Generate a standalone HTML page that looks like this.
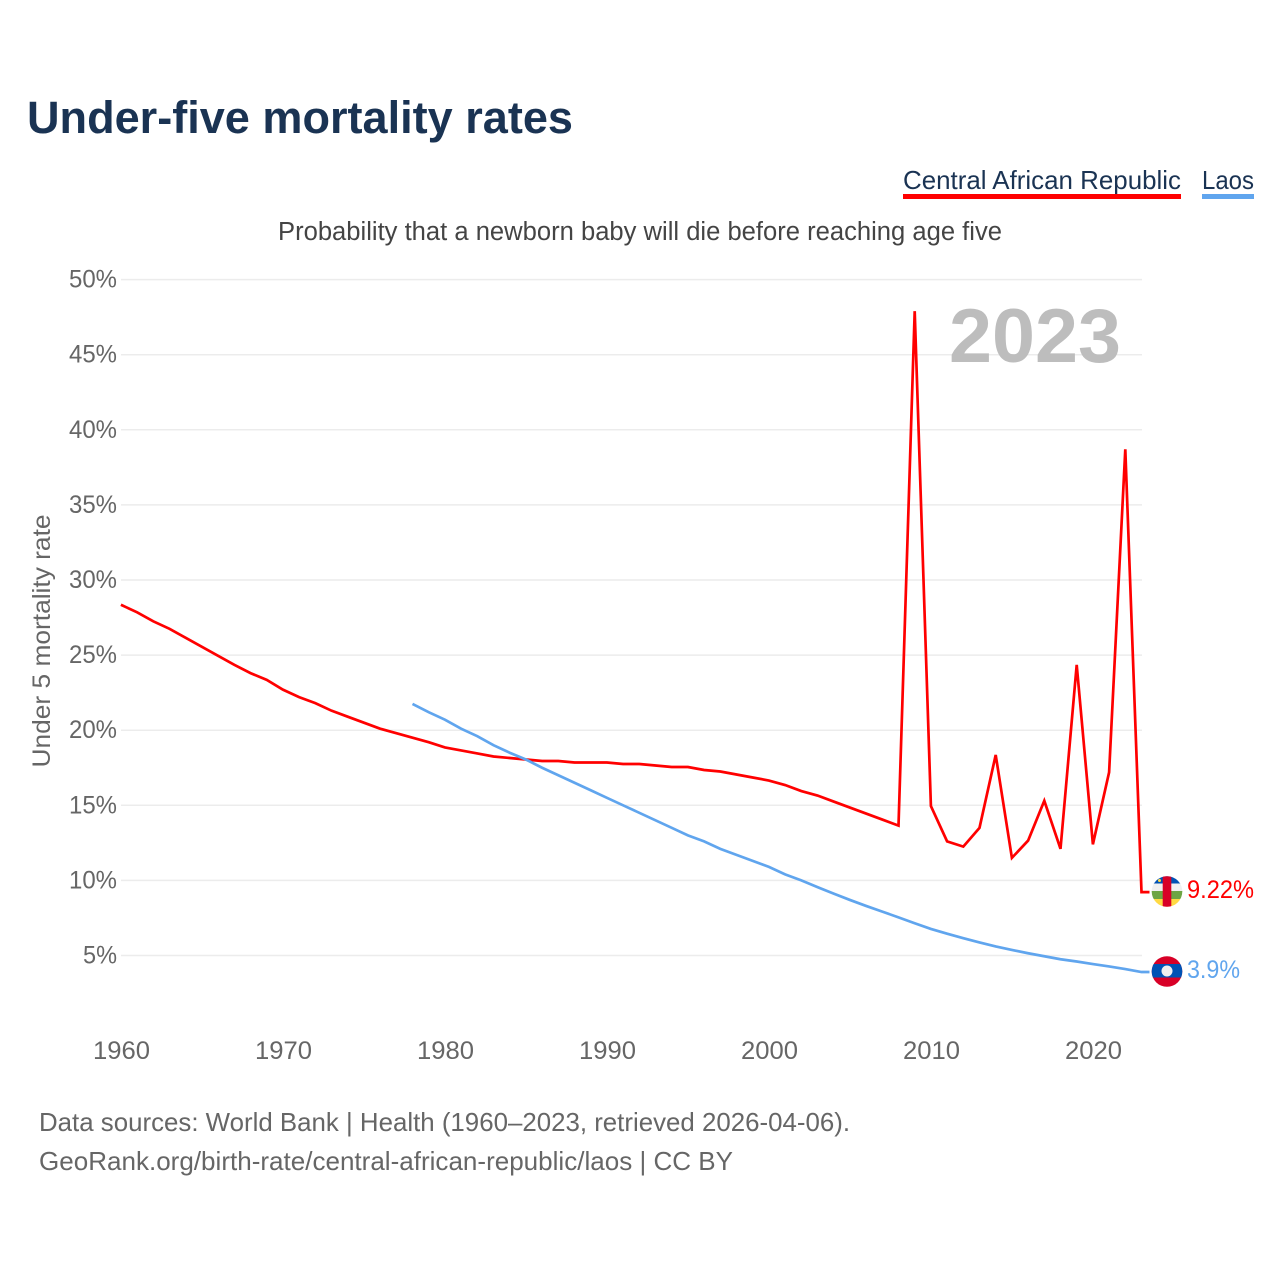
<!DOCTYPE html>
<html lang="en">
<head>
<meta charset="utf-8">
<title>Under-five mortality rates</title>
<style>
html,body{margin:0;padding:0;background:#fff;}
svg{display:block;font-family:"Liberation Sans",sans-serif;}
</style>
</head>
<body>
<svg id="chart" xmlns="http://www.w3.org/2000/svg" width="1280" height="1280" viewBox="0 0 1280 1280">
  <defs>
    <clipPath id="clip-car"><circle cx="1167" cy="891.5" r="15.3"/></clipPath>
    <clipPath id="clip-laos"><circle cx="1167" cy="971.5" r="15.3"/></clipPath>
  </defs>
  <rect width="1280" height="1280" fill="#fff"/>
  <text x="27" y="133" font-size="45" font-weight="700" fill="#1a3353" textLength="546" lengthAdjust="spacingAndGlyphs">Under-five mortality rates</text>

  <g>
    <text x="903" y="189" font-size="26" fill="#1a3353" textLength="278" lengthAdjust="spacingAndGlyphs">Central African Republic</text>
    <rect x="903" y="194" width="278" height="5" fill="#ff0000"/>
  </g>
  <g>
    <text x="1202" y="189" font-size="26" fill="#1a3353" textLength="52" lengthAdjust="spacingAndGlyphs">Laos</text>
    <rect x="1202" y="194" width="52" height="5" fill="#60a5ee"/>
  </g>

  <text x="278" y="240" font-size="25.5" fill="#444" textLength="724" lengthAdjust="spacingAndGlyphs">Probability that a newborn baby will die before reaching age five</text>

  <g id="grid"></g>
  <g id="yticks"></g>
  <g id="xticks"></g>

  <text transform="translate(50,641) rotate(-90)" text-anchor="middle" font-size="25" fill="#666" textLength="253" lengthAdjust="spacingAndGlyphs">Under 5 mortality rate</text>

  <text x="949" y="362" font-size="76" font-weight="700" fill="#bdbdbd" textLength="172" lengthAdjust="spacingAndGlyphs">2023</text>

  <g id="series"></g>

  <g clip-path="url(#clip-car)">
    <rect x="1150" y="875" width="34" height="9" fill="#0052b4"/>
    <rect x="1150" y="883.5" width="34" height="8" fill="#f0f0f0"/>
    <rect x="1150" y="891" width="34" height="8" fill="#6da544"/>
    <rect x="1150" y="899" width="34" height="9" fill="#ffda44"/>
    <rect x="1162.7" y="875" width="8.6" height="33" fill="#d80027"/>
    <circle cx="1159.5" cy="880.5" r="1.5" fill="#ffda44"/>
  </g>
  <text id="label-car" x="1187" y="898" font-size="25" fill="#ff0000" textLength="67" lengthAdjust="spacingAndGlyphs">9.22%</text>

  <g clip-path="url(#clip-laos)">
    <rect x="1150" y="955" width="34" height="33" fill="#d80027"/>
    <rect x="1150" y="964" width="34" height="13.5" fill="#0052b4"/>
    <circle cx="1167" cy="971" r="5.5" fill="#f0f0f0"/>
  </g>
  <text id="label-laos" x="1187" y="978" font-size="25" fill="#60a5ee" textLength="53" lengthAdjust="spacingAndGlyphs">3.9%</text>

  <text x="39" y="1131" font-size="26" fill="#666" textLength="811" lengthAdjust="spacingAndGlyphs">Data sources: World Bank | Health (1960–2023, retrieved 2026-04-06).</text>
  <text x="39" y="1170" font-size="26" fill="#666" textLength="694" lengthAdjust="spacingAndGlyphs">GeoRank.org/birth-rate/central-african-republic/laos | CC BY</text>
</svg>
<script>
const yTickValues = [5, 10, 15, 20, 25, 30, 35, 40, 45, 50];
const xTickYears = [1960, 1970, 1980, 1990, 2000, 2010, 2020];
const carStartYear = 1960;
const carValues = [
  28.35, 27.85, 27.25, 26.75, 26.15, 25.55, 24.95, 24.35, 23.8, 23.35,
  22.7, 22.2, 21.8, 21.3, 20.9, 20.5, 20.1, 19.8, 19.5, 19.2,
  18.85, 18.65, 18.45, 18.25, 18.15, 18.05, 17.95, 17.95, 17.85, 17.85,
  17.85, 17.75, 17.75, 17.65, 17.55, 17.55, 17.35, 17.25, 17.05, 16.85,
  16.65, 16.35, 15.95, 15.65, 15.25, 14.85, 14.45, 14.05, 13.65, 47.9,
  14.95, 12.6, 12.25, 13.5, 18.35, 11.5, 12.65, 15.3, 12.1, 24.35,
  12.4, 17.2, 38.7, 9.22
];
const laosStartYear = 1978;
const laosValues = [
  21.75, 21.2, 20.7, 20.1, 19.6, 19.0, 18.5, 18.05, 17.5, 17.0,
  16.5, 16.0, 15.5, 15.0, 14.5, 14.0, 13.5, 13.0, 12.6, 12.1,
  11.7, 11.3, 10.9, 10.4, 10.0, 9.55, 9.12, 8.7, 8.3, 7.92,
  7.54, 7.15, 6.77, 6.45, 6.15, 5.87, 5.6, 5.37, 5.15, 4.95,
  4.75, 4.6, 4.43, 4.27, 4.1, 3.9
];

const SVG_NS = 'http://www.w3.org/2000/svg';
const xScale = function (year) { return 120.9 + (year - 1960) * 16.2; };
const yScale = function (value) { return 955.5 - (value - 5) * 15.02; };

const gridGroup = document.getElementById('grid');
const yTickGroup = document.getElementById('yticks');
const xTickGroup = document.getElementById('xticks');
const seriesGroup = document.getElementById('series');

yTickValues.forEach(function (v) {
  const line = document.createElementNS(SVG_NS, 'line');
  
  
  line.setAttribute('x1', 121);
  line.setAttribute('x2', 1142);
  line.setAttribute('y1', yScale(v));
  line.setAttribute('y2', yScale(v));
  line.setAttribute('stroke', '#ececec');
  line.setAttribute('stroke-width', 1.5);
  gridGroup.appendChild(line);

  const label = document.createElementNS(SVG_NS, 'text');
  
  
  const text = v + '%';
  const width = text.length === 3 ? 48 : 34;
  label.setAttribute('x', 117 - width);
  label.setAttribute('y', yScale(v) + 8);
  label.setAttribute('font-size', 25);
  label.setAttribute('fill', '#666');
  label.setAttribute('textLength', width);
  label.setAttribute('lengthAdjust', 'spacingAndGlyphs');
  label.textContent = text;
  yTickGroup.appendChild(label);
});

xTickYears.forEach(function (year) {
  const label = document.createElementNS(SVG_NS, 'text');
  
  
  label.setAttribute('x', xScale(year) - 27.9);
  label.setAttribute('y', 1059);
  label.setAttribute('font-size', 25);
  label.setAttribute('fill', '#666');
  label.setAttribute('textLength', 57);
  label.setAttribute('lengthAdjust', 'spacingAndGlyphs');
  label.textContent = year;
  xTickGroup.appendChild(label);
});

function pointsFor(startYear, values) {
  const pts = values.map(function (v, i) {
    return xScale(startYear + i).toFixed(2) + ',' + yScale(v).toFixed(2);
  });
  const lastYear = startYear + values.length - 1;
  const lastValue = values[values.length - 1];
  pts.push((xScale(lastYear) + 8).toFixed(2) + ',' + yScale(lastValue).toFixed(2));
  return pts.join(' ');
}

const carLine = document.createElementNS(SVG_NS, 'polyline');


carLine.setAttribute('points', pointsFor(carStartYear, carValues));
carLine.setAttribute('fill', 'none');
carLine.setAttribute('stroke', '#ff0000');
carLine.setAttribute('stroke-width', 2.7);
carLine.setAttribute('stroke-linejoin', 'miter');
seriesGroup.appendChild(carLine);

const laosLine = document.createElementNS(SVG_NS, 'polyline');


laosLine.setAttribute('points', pointsFor(laosStartYear, laosValues));
laosLine.setAttribute('fill', 'none');
laosLine.setAttribute('stroke', '#60a5ee');
laosLine.setAttribute('stroke-width', 2.7);
seriesGroup.appendChild(laosLine);

document.getElementById('label-car').textContent = carValues[carValues.length - 1] + '%';
document.getElementById('label-laos').textContent = laosValues[laosValues.length - 1] + '%';
</script>
</body>
</html>
